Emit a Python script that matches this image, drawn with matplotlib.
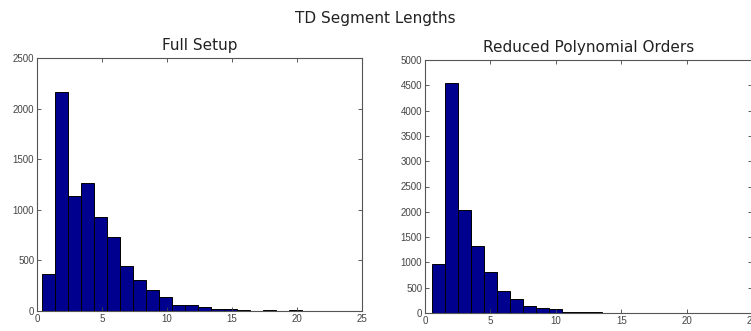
import numpy as np
import matplotlib
matplotlib.use("Agg")
import matplotlib.pyplot as plt

# Histogram counts per unit-width bin
full_counts = [364, 2160, 1135, 1265, 924, 728, 447, 305, 205, 139,
               59, 59, 40, 23, 20, 10, 3, 10, 3, 10]
full_edges = np.arange(21) + 0.4

reduced_counts = [962, 4555, 2040, 1320, 811, 435, 284, 139, 105, 73,
                  20, 20, 13, 5, 5, 5]
reduced_edges = np.arange(17) + 0.5

suptitle = "TD Segment Lengths"
titles = ["Full Setup", "Reduced Polynomial Orders"]
full_yticks = [0, 500, 1000, 1500, 2000, 2500]
reduced_yticks = [0, 500, 1000, 1500, 2000, 2500, 3000, 3500, 4000, 4500, 5000]
xticks = [0, 5, 10, 15, 20, 25]

bar_color = "#00008F"
tick_font = "Liberation Sans"
title_font = "DejaVu Sans"

fig = plt.figure(figsize=(7.51, 3.31), dpi=100)
ax1 = fig.add_axes([37 / 751, 1 - 311 / 331, 325 / 751, 253 / 331])
ax2 = fig.add_axes([425 / 751, 1 - 313 / 331, 327 / 751, 253 / 331])

panels = [
    (ax1, full_counts, full_edges, full_yticks, titles[0]),
    (ax2, reduced_counts, reduced_edges, reduced_yticks, titles[1]),
]

for ax, counts, edges, yticks, title in panels:
    ax.hist(edges[:-1], bins=edges, weights=counts, color=bar_color,
            edgecolor="black", linewidth=0.7)
    ax.set_xlim(0, 25)
    ax.set_ylim(yticks[0], yticks[-1])
    ax.set_xticks(xticks)
    ax.set_yticks(yticks)
    ax.tick_params(direction="in", length=3, width=0.6, top=True, right=True,
                   labelsize=7, pad=2, colors="#444444")
    for lab in ax.get_xticklabels() + ax.get_yticklabels():
        lab.set_fontfamily(tick_font)
    for sp in ax.spines.values():
        sp.set_color("#555555")
        sp.set_linewidth(0.8)
    ax.set_title(title, fontsize=11, family=title_font, pad=6, color="#222222")

fig.text(0.5, 1 - 18 / 331, suptitle, ha="center", va="center",
         fontsize=11, family=title_font, color="#222222")

fig.savefig("out.png", dpi=100)
